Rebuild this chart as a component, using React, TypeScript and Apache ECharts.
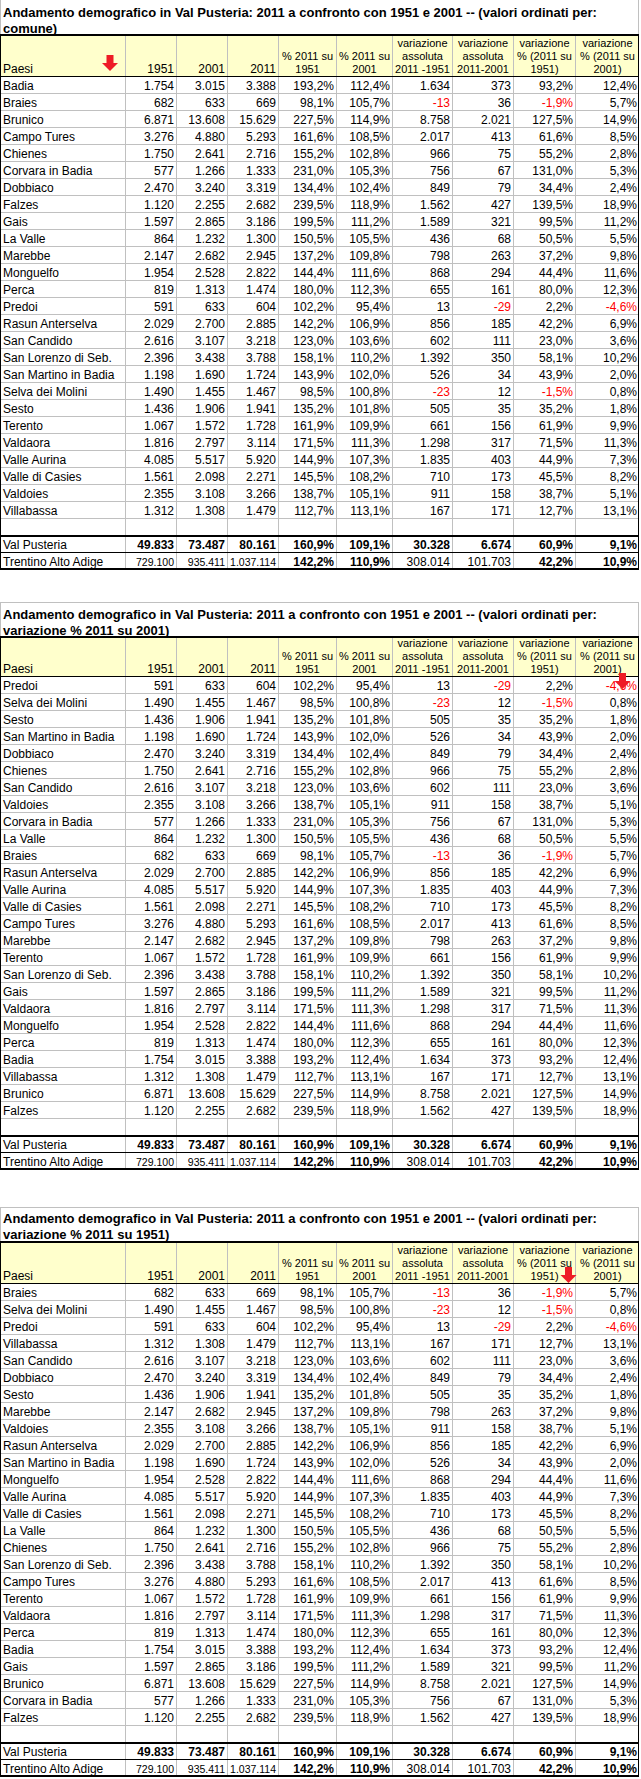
import React, { useEffect, useRef } from "react";
import * as echarts from "echarts";

// ---------------- DATA ----------------
const towns = [
  "Badia", "Braies", "Brunico", "Campo Tures", "Chienes", "Corvara in Badia", "Dobbiaco", "Falzes", "Gais",
  "La Valle", "Marebbe", "Monguelfo", "Perca", "Predoi", "Rasun Anterselva", "San Candido", "San Lorenzo di Seb.",
  "San Martino in Badia", "Selva dei Molini", "Sesto", "Terento", "Valdaora", "Valle Aurina", "Valle di Casies",
  "Valdoies", "Villabassa",
];
const pop1951 = [1754, 682, 6871, 3276, 1750, 577, 2470, 1120, 1597, 864, 2147, 1954, 819, 591, 2029, 2616, 2396, 1198, 1490, 1436, 1067, 1816, 4085, 1561, 2355, 1312];
const pop2001 = [3015, 633, 13608, 4880, 2641, 1266, 3240, 2255, 2865, 1232, 2682, 2528, 1313, 633, 2700, 3107, 3438, 1690, 1455, 1906, 1572, 2797, 5517, 2098, 3108, 1308];
const pop2011 = [3388, 669, 15629, 5293, 2716, 1333, 3319, 2682, 3186, 1300, 2945, 2822, 1474, 604, 2885, 3218, 3788, 1724, 1467, 1941, 1728, 3114, 5920, 2271, 3266, 1479];
const pct2011vs1951 = [193.2, 98.1, 227.5, 161.6, 155.2, 231.0, 134.4, 239.5, 199.5, 150.5, 137.2, 144.4, 180.0, 102.2, 142.2, 123.0, 158.1, 143.9, 98.5, 135.2, 161.9, 171.5, 144.9, 145.5, 138.7, 112.7];
const pct2011vs2001 = [112.4, 105.7, 114.9, 108.5, 102.8, 105.3, 102.4, 118.9, 111.2, 105.5, 109.8, 111.6, 112.3, 95.4, 106.9, 103.6, 110.2, 102.0, 100.8, 101.8, 109.9, 111.3, 107.3, 108.2, 105.1, 113.1];
const abs2011vs1951 = [1634, -13, 8758, 2017, 966, 756, 849, 1562, 1589, 436, 798, 868, 655, 13, 856, 602, 1392, 526, -23, 505, 661, 1298, 1835, 710, 911, 167];
const abs2011vs2001 = [373, 36, 2021, 413, 75, 67, 79, 427, 321, 68, 263, 294, 161, -29, 185, 111, 350, 34, 12, 35, 156, 317, 403, 173, 158, 171];
const varPct1951 = [93.2, -1.9, 127.5, 61.6, 55.2, 131.0, 34.4, 139.5, 99.5, 50.5, 37.2, 44.4, 80.0, 2.2, 42.2, 23.0, 58.1, 43.9, -1.5, 35.2, 61.9, 71.5, 44.9, 45.5, 38.7, 12.7];
const varPct2001 = [12.4, 5.7, 14.9, 8.5, 2.8, 5.3, 2.4, 18.9, 11.2, 5.5, 9.8, 11.6, 12.3, -4.6, 6.9, 3.6, 10.2, 2.0, 0.8, 1.8, 9.9, 11.3, 7.3, 8.2, 5.1, 13.1];

const totalNames = ["Val Pusteria", "Trentino Alto Adige"];
const tot1951 = [49833, 729100];
const tot2001 = [73487, 935411];
const tot2011 = [80161, 1037114];
const totPct1951 = [160.9, 142.2];
const totPct2001 = [109.1, 110.9];
const totAbs1951 = [30328, 308014];
const totAbs2001 = [6674, 101703];
const totVar1951 = [60.9, 42.2];
const totVar2001 = [9.1, 10.9];

const titleLine1 = "Andamento demografico in Val Pusteria: 2011 a confronto con 1951 e 2001 -- (valori ordinati per:";
const titleLine2 = ["comune)", "variazione % 2011 su 2001)", "variazione % 2011 su 1951)"];
const headerFirst = "Paesi";
const headerYears = ["1951", "2001", "2011"];
const headerWrapped = [
  ["% 2011 su", "1951"],
  ["% 2011 su", "2001"],
  ["variazione", "assoluta", "2011 -1951"],
  ["variazione", "assoluta", "2011-2001"],
  ["variazione", "% (2011 su", "1951)"],
  ["variazione", "% (2011 su", "2001)"],
];

// ---------------- LAYOUT ----------------
const W = 641;
const H = 1779;
const COL_EDGES = [0, 125, 176, 227, 278, 336, 392, 452, 513, 575, 639];
const ROW_H = 17;
const GRAY = "#c0c0c0";
const BLACK = "#000000";
const RED = "#ff0000";
const YELLOW = "#ffffcc";
const FONT = "'Liberation Sans', Arial, sans-serif";
const BODY = 12;

const tables = [
  { titleTop: -2, l1: 12, l2: 28, headTop: 34, headBottom: 77, arrow: [110, 55] },
  { titleTop: 602, l1: 614, l2: 630, headTop: 636, headBottom: 677, arrow: [622.5, 673] },
  { titleTop: 1207, l1: 1218, l2: 1234, headTop: 1241, headBottom: 1284, arrow: [568.5, 1267] },
];

// ---------------- HELPERS ----------------
const fmtInt = (n: number) => {
  const s = Math.abs(n).toString().replace(/\B(?=(\d{3})+(?!\d))/g, ".");
  return (n < 0 ? "-" : "") + s;
};
const fmtPct = (v: number) => v.toFixed(1).replace(".", ",") + "%";

type RowDesc = { kind: "town" | "empty" | "total"; i: number };
const baseOrder = towns.map((_, i) => i);
const orders = [
  baseOrder,
  [...baseOrder].sort((a, b) => varPct2001[a] - varPct2001[b]),
  [...baseOrder].sort((a, b) => varPct1951[a] - varPct1951[b]),
];
const makeRows = (order: number[]): RowDesc[] => [
  ...order.map((i) => ({ kind: "town" as const, i })),
  { kind: "empty", i: -1 },
  { kind: "total", i: 0 },
  { kind: "total", i: 1 },
];

type Cell = { t: string; color?: string; bold?: boolean; size?: number };
function cellsFor(d: RowDesc): Cell[] {
  if (d.kind === "empty") return [];
  if (d.kind === "town") {
    const i = d.i;
    const num = (v: number, f: (x: number) => string): Cell => ({ t: f(v), color: v < 0 ? RED : BLACK });
    return [
      { t: towns[i] },
      num(pop1951[i], fmtInt),
      num(pop2001[i], fmtInt),
      num(pop2011[i], fmtInt),
      num(pct2011vs1951[i], fmtPct),
      num(pct2011vs2001[i], fmtPct),
      num(abs2011vs1951[i], fmtInt),
      num(abs2011vs2001[i], fmtInt),
      num(varPct1951[i], fmtPct),
      num(varPct2001[i], fmtPct),
    ];
  }
  const i = d.i;
  if (i === 0) {
    return [
      { t: totalNames[i] },
      { t: fmtInt(tot1951[i]), bold: true },
      { t: fmtInt(tot2001[i]), bold: true },
      { t: fmtInt(tot2011[i]), bold: true },
      { t: fmtPct(totPct1951[i]), bold: true },
      { t: fmtPct(totPct2001[i]), bold: true },
      { t: fmtInt(totAbs1951[i]), bold: true },
      { t: fmtInt(totAbs2001[i]), bold: true },
      { t: fmtPct(totVar1951[i]), bold: true },
      { t: fmtPct(totVar2001[i]), bold: true },
    ];
  }
  return [
    { t: totalNames[i] },
    { t: fmtInt(tot1951[i]), size: 10.5 },
    { t: fmtInt(tot2001[i]), size: 10.5 },
    { t: fmtInt(tot2011[i]), size: 10.5 },
    { t: fmtPct(totPct1951[i]), bold: true },
    { t: fmtPct(totPct2001[i]), bold: true },
    { t: fmtInt(totAbs1951[i]) },
    { t: fmtInt(totAbs2001[i]) },
    { t: fmtPct(totVar1951[i]), bold: true },
    { t: fmtPct(totVar2001[i]), bold: true },
  ];
}

const ln = (x1: number, y1: number, x2: number, y2: number, stroke: string, lw: number, z2 = 0) => ({
  type: "line",
  shape: { x1, y1, x2, y2 },
  style: { stroke, lineWidth: lw },
  z2,
  silent: true,
});

const txt = (x: number, y: number, text: string, align: string, size: number, bold: boolean, fill: string) => ({
  type: "text",
  x,
  y,
  silent: true,
  style: {
    text,
    fill,
    align,
    textAlign: align,
    verticalAlign: "middle",
    textVerticalAlign: "middle",
    fontSize: size,
    fontFamily: FONT,
    fontWeight: bold ? "bold" : "normal",
  },
});

const makeRender = (rows: RowDesc[]) => (_params: any, api: any) => {
  const r = api.value(1);
  const c = api.coord([0, r]);
  const h = api.size([0, 1])[1];
  const top = Math.round(c[1] - h / 2);
  const bottom = Math.round(c[1] + h / 2);
  const mid = (top + bottom) / 2 + 0.5;
  const xs = COL_EDGES.map((e) => api.coord([e, r])[0]);
  const d = rows[r];
  const children: any[] = [];
  for (let k = 1; k < xs.length - 1; k++) children.push(ln(xs[k] + 0.5, top, xs[k] + 0.5, bottom, GRAY, 1));
  if (d.kind === "total" && d.i === 0) {
    children.push(ln(xs[0], top, xs[10], top, BLACK, 2, 2));
    children.push(ln(xs[0], bottom - 0.5, xs[10], bottom - 0.5, BLACK, 1, 2));
  } else if (d.kind === "total") {
    children.push(ln(xs[0], bottom - 1, xs[10], bottom - 1, BLACK, 2, 2));
  } else {
    children.push(ln(xs[0], bottom - 0.5, xs[10], bottom - 0.5, GRAY, 1));
  }
  children.push(ln(xs[0] + 0.5, top, xs[0] + 0.5, bottom, BLACK, 1, 3));
  children.push(ln(xs[10] - 0.5, top, xs[10] - 0.5, bottom, BLACK, 1, 3));
  const cells = cellsFor(d);
  cells.forEach((cell, k) => {
    const size = cell.size || BODY;
    if (k === 0) children.push(txt(xs[0] + 3, mid, cell.t, "left", size, !!cell.bold, cell.color || BLACK));
    else children.push(txt(xs[k + 1] - 2, mid, cell.t, "right", size, !!cell.bold, cell.color || BLACK));
  });
  return { type: "group", children };
};

function headerGraphics(ti: number): any[] {
  const T = tables[ti];
  const g: any[] = [];
  const right = COL_EDGES[10];
  // title box
  if (T.titleTop >= 0) g.push(ln(0, T.titleTop + 0.5, right, T.titleTop + 0.5, GRAY, 1));
  g.push(ln(0.5, Math.max(0, T.titleTop), 0.5, T.headTop, GRAY, 1));
  g.push(ln(right - 0.5, Math.max(0, T.titleTop), right - 0.5, T.headTop, GRAY, 1));
  g.push(txt(3, T.l1, titleLine1, "left", 13, true, BLACK));
  g.push(txt(3, T.l2, titleLine2[ti], "left", 13, true, BLACK));
  // header
  g.push({
    type: "rect",
    silent: true,
    shape: { x: 0, y: T.headTop, width: right, height: T.headBottom - T.headTop },
    style: { fill: YELLOW },
  });
  for (let k = 1; k < COL_EDGES.length - 1; k++)
    g.push(ln(COL_EDGES[k] + 0.5, T.headTop, COL_EDGES[k] + 0.5, T.headBottom, GRAY, 1));
  g.push(ln(0, T.headTop + 1, right, T.headTop + 1, BLACK, 2));
  g.push(ln(0, T.headBottom - 0.5, right, T.headBottom - 0.5, BLACK, 1));
  g.push(ln(0.5, T.headTop, 0.5, T.headBottom, BLACK, 1));
  g.push(ln(right - 0.5, T.headTop, right - 0.5, T.headBottom, BLACK, 1));
  const yb = T.headBottom - 8;
  g.push(txt(3, yb, headerFirst, "left", BODY, false, BLACK));
  headerYears.forEach((y, k) => g.push(txt(COL_EDGES[k + 2] - 2, yb, y, "right", BODY, false, BLACK)));
  headerWrapped.forEach((lines, k) => {
    const cx = (COL_EDGES[k + 4] + COL_EDGES[k + 5]) / 2 + 0.5;
    lines.forEach((s, j) => g.push(txt(cx, yb - (lines.length - 1 - j) * 13, s, "center", 11, false, BLACK)));
  });
  // sort arrow
  const [ax, ay] = T.arrow;
  g.push({
    type: "polygon",
    silent: true,
    z: 200,
    shape: {
      points: [
        [ax - 3.5, ay], [ax + 3.5, ay], [ax + 3.5, ay + 8], [ax + 8, ay + 8],
        [ax, ay + 16], [ax - 8, ay + 8], [ax - 3.5, ay + 8],
      ],
    },
    style: { fill: "#ee1c25" },
  });
  return g;
}

export default function App() {
  const ref = useRef<HTMLDivElement>(null);
  useEffect(() => {
    if (!ref.current) return;
    const chart = echarts.init(ref.current, undefined, { renderer: "svg" });
    const allRows = orders.map(makeRows);
    const grids = tables.map((T) => ({
      left: 0,
      top: T.headBottom,
      width: W,
      height: ROW_H * allRows[0].length,
      containLabel: false,
      show: false,
    }));
    const xAxes = tables.map((_, i) => ({
      type: "value",
      gridIndex: i,
      min: 0,
      max: W,
      show: false,
    }));
    const yAxes = allRows.map((rows, i) => ({
      type: "category",
      gridIndex: i,
      inverse: true,
      show: false,
      data: rows.map((d) => (d.kind === "town" ? towns[d.i] : d.kind === "total" ? totalNames[d.i] : "")),
    }));
    const series = allRows.map((rows, i) => ({
      type: "custom",
      xAxisIndex: i,
      yAxisIndex: i,
      clip: false,
      silent: true,
      renderItem: makeRender(rows),
      encode: { x: 0, y: 1 },
      data: rows.map((_, r) => [0, r]),
    }));
    const graphics: any[] = [];
    tables.forEach((_, i) => graphics.push(...headerGraphics(i)));
    chart.setOption({
      animation: false,
      backgroundColor: "#ffffff",
      grid: grids,
      xAxis: xAxes,
      yAxis: yAxes,
      series,
      graphic: { elements: graphics },
    });
    return () => chart.dispose();
  }, []);
  return <div ref={ref} style={{ position: "absolute", left: 0, top: 0, width: W, height: H }} />;
}
